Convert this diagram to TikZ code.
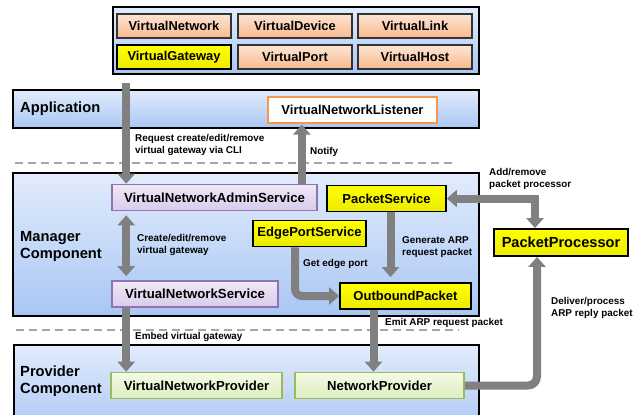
\documentclass[tikz,border=0pt]{standalone}
\usepackage{fontspec}
\setmainfont{Liberation Sans}
\usetikzlibrary{arrows.meta}
\definecolor{bandtop}{HTML}{E2ECFC}
\definecolor{bandbot}{HTML}{A9C6F4}
\definecolor{orgtop}{HTML}{FDE6D4}
\definecolor{orgbot}{HTML}{F8B88E}
\definecolor{purtop}{HTML}{EFE8F6}
\definecolor{purbot}{HTML}{DACBEA}
\definecolor{purline}{HTML}{8E74B4}
\definecolor{grntop}{HTML}{F4FAE6}
\definecolor{grnbot}{HTML}{DDEDBE}
\definecolor{grnline}{HTML}{9BBB59}
\definecolor{lsnline}{HTML}{F79646}
\definecolor{arrgray}{HTML}{808080}
\definecolor{sepgray}{HTML}{A6A6A6}
\tikzset{
    band/.style={ draw=black, line width=1.2pt, top color=bandtop, bottom color=bandbot, inner sep=0pt },
    entity/.style={ draw=black!80, line width=1.1pt, top color=orgtop, bottom color=orgbot,
        minimum width=114pt, minimum height=24pt, inner sep=0pt, font=\fontsize{12.9}{14}\selectfont\bfseries },
    gwbox/.style={ entity, draw=black, line width=1.8pt, top color=yellow, bottom color=yellow!92!black },
    purbox/.style={ draw=purline, line width=1.6pt, top color=purtop, bottom color=purbot,
        minimum height=26pt, inner sep=0pt, font=\fontsize{13.2}{15}\selectfont\bfseries },
    yelbox/.style={ draw=black, line width=1.8pt, top color=yellow, bottom color=yellow!92!black,
        minimum height=26pt, inner sep=0pt, font=\fontsize{13}{15}\selectfont\bfseries },
    grnbox/.style={ draw=grnline, line width=1.6pt, top color=grntop, bottom color=grnbot,
        minimum height=26pt, inner sep=0pt, font=\fontsize{13.1}{15}\selectfont\bfseries },
    lsnbox/.style={ draw=lsnline, line width=1.2pt, fill=white,
        minimum height=26pt, inner sep=0pt, font=\fontsize{13}{15}\selectfont\bfseries },
    seclbl/.style={ anchor=west, align=left, inner sep=0pt, font=\fontsize{14.7}{17}\selectfont\bfseries },
    lbl/.style={ anchor=west, align=left, inner sep=0pt, font=\fontsize{9.9}{12}\selectfont\bfseries },
    arr/.style={ draw=arrgray, line width=8pt, -{Triangle[width=17pt,length=10pt]} },
    darr/.style={ draw=arrgray, line width=8pt, {Triangle[width=17pt,length=10pt]}-{Triangle[width=17pt,length=10pt]} },
    sep/.style={ draw=sepgray, line width=1.6pt, dash pattern=on 8pt off 5pt }
}

\begin{document}
\begin{tikzpicture}[x=1pt,y=-1pt]
    \useasboundingbox (0,0) rectangle (641,415);
    \clip (0,0) rectangle (641,415);

    % layers
    \node[band, minimum width=366pt, minimum height=67pt] (entities) at (296,40.5) {};
    \node[band, minimum width=466pt, minimum height=38pt] (app) at (246,109) {};
    \node[band, minimum width=466pt, minimum height=143pt] (mgr) at (246,244.5) {};
    \node[band, minimum width=465pt, minimum height=90pt] (prov) at (246.5,390) {};

    \node[entity] (vnet) at (174,26) {VirtualNetwork};
    \node[entity] (vdev) at (295,26) {VirtualDevice};
    \node[entity] (vlink) at (415,26) {VirtualLink};
    \node[gwbox] (vgw) at (174,57) {VirtualGateway};
    \node[entity] (vport) at (295,57) {VirtualPort};
    \node[entity] (vhost) at (415,57) {VirtualHost};

    \node[seclbl] (applbl) at (20,109) {Application};
    \node[seclbl] (mgrlbl) at (20,246) {Manager\\Component};
    \node[seclbl] (provlbl) at (20,381) {Provider\\Component};

    \node[lsnbox, minimum width=169pt] (listener) at (352.5,110) {VirtualNetworkListener};
    \node[purbox, minimum width=205pt] (vnas) at (214.5,197.5) {VirtualNetworkAdminService};
    \node[purbox, minimum width=166pt] (vns) at (195,294) {VirtualNetworkService};
    \node[yelbox, minimum width=113pt] (edge) at (309.5,233.5) {EdgePortService};
    \node[yelbox, minimum width=119pt] (pservice) at (386.5,198.5) {PacketService};
    \node[yelbox, minimum width=131pt] (outbound) at (405.5,296) {OutboundPacket};
    \node[yelbox, minimum width=134pt, minimum height=27pt, font=\fontsize{14.6}{16}\selectfont\bfseries] (pproc) at (561,242.5) {PacketProcessor};
    \node[grnbox, minimum width=171pt] (vnp) at (196.5,385.5) {VirtualNetworkProvider};
    \node[grnbox, minimum width=169pt] (np) at (379.5,385.5) {NetworkProvider};

    \draw[sep] (15,163) -- (455,163);
    \draw[sep] (16,330) -- (459,330);

    % connectors
    \draw[arr] ([xshift=15pt,yshift=-8pt]vnas.north west |- entities.south) -- ([xshift=15pt]vnas.north west);
    \draw[arr] ([xshift=-16pt]vnas.north east) -- ([xshift=-16pt,yshift=-1pt]vnas.north east |- listener.south);
    \draw[darr, shorten <=4pt, shorten >=4pt] ([xshift=15pt]vnas.south west) -- ([xshift=15pt]vns.north west);
    \draw[arr] ([xshift=15pt]vns.south west) -- ([xshift=15pt]vns.south west |- vnp.north);
    \draw[arr, shorten >=5pt] ([xshift=4pt]pservice.south) -- ([xshift=4pt]pservice.south |- outbound.north);
    \draw[arr, rounded corners=7pt] ([xshift=-14.5pt]edge.south) |- (outbound.west);
    \draw[darr] (pservice.east) -| ([xshift=-26pt]pproc.north);
    \draw[arr] ([xshift=-32pt]outbound.south) -- ([xshift=-32pt]outbound.south |- np.north);
    \draw[arr, rounded corners=9pt] (np.east) -| ([xshift=-24pt]pproc.south);

    \node[lbl] (reqlbl) at (135,145) {Request create/edit/remove\\virtual gateway via CLI};
    \node[lbl] (notlbl) at (310,152) {Notify};
    \node[lbl] (crelbl) at (137,245) {Create/edit/remove\\virtual gateway};
    \node[lbl] (genlbl) at (402,247) {Generate ARP\\request packet};
    \node[lbl] (getlbl) at (303,264) {Get edge port};
    \node[lbl] (addlbl) at (489,179) {Add/remove\\packet processor};
    \node[lbl] (dellbl) at (551,308) {Deliver/process\\ARP reply packet};
    \node[lbl] (emblbl) at (135,337) {Embed virtual gateway};
    \node[lbl] (emitlbl) at (385,323) {Emit ARP request packet};
\end{tikzpicture}
\end{document}
